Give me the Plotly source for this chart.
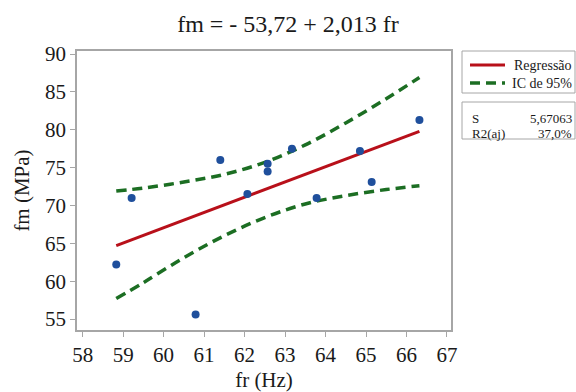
import plotly.graph_objects as go

# Observed pairs: resonance frequency (Hz) vs. compressive strength (MPa)
fr = [58.83, 59.21, 60.79, 61.40, 62.07, 62.57, 62.57, 63.17, 63.78, 64.85, 65.14, 66.32]
fm = [62.2, 71.0, 55.6, 76.0, 71.5, 75.5, 74.5, 77.5, 71.0, 77.2, 73.1, 81.3]

# Fitted line coefficients (fm = b0 + b1 * fr)
b0 = -53.72
b1 = 2.013

# 95% confidence band read along the fitted range
ci_x = [58.83, 59.5, 60.5, 61.5, 62.5, 63.5, 64.5, 65.5, 66.32]
ci_upper = [71.9, 72.3, 73.1, 74.1, 75.7, 78.0, 80.9, 84.1, 86.9]
ci_lower = [57.7, 59.8, 63.1, 66.0, 68.4, 70.2, 71.3, 72.1, 72.6]

x_ticks = [58, 59, 60, 61, 62, 63, 64, 65, 66, 67]
y_ticks = [55, 60, 65, 70, 75, 80, 85, 90]

s_value = "5,67063"
r2_adj = "37,0%"

FONT = "Times New Roman, Liberation Serif, Tinos, DejaVu Serif, serif"
INK = "#1a1a1a"
RED = "#b8101a"
GREEN = "#1c6e23"
BLUE = "#1f4f9c"
FRAME = "#a6a6a6"

fit_x = [min(fr), max(fr)]
fit_y = [b0 + b1 * v for v in fit_x]

fig = go.Figure()

fig.add_trace(go.Scatter(
    x=ci_x, y=ci_upper, mode="lines", line=dict(color=GREEN, width=3.5, dash="10px,6px", shape="spline"),
    name="IC de 95%", showlegend=False, hoverinfo="skip"))
fig.add_trace(go.Scatter(
    x=ci_x, y=ci_lower, mode="lines", line=dict(color=GREEN, width=3.5, dash="10px,6px", shape="spline"),
    name="IC de 95%", showlegend=False, hoverinfo="skip"))
fig.add_trace(go.Scatter(
    x=fit_x, y=fit_y, mode="lines", line=dict(color=RED, width=3),
    name="Regressão", showlegend=False))
fig.add_trace(go.Scatter(
    x=fr, y=fm, mode="markers", marker=dict(color=BLUE, size=8),
    showlegend=False))

# Legend panel and summary panel drawn in paper space beside the plot
L, T = 77, 51
PW, PH = 374, 279


def px(xp):
    return (xp - L) / PW


def py(yp):
    return 1 - (yp - T) / PH


shapes = [
    dict(type="rect", xref="paper", yref="paper", x0=px(462), x1=px(575), y0=py(93), y1=py(51),
         line=dict(color=FRAME, width=1), fillcolor="white"),
    dict(type="rect", xref="paper", yref="paper", x0=px(462), x1=px(575), y0=py(139), y1=py(102),
         line=dict(color=FRAME, width=1), fillcolor="white"),
    dict(type="line", xref="paper", yref="paper", x0=px(470), x1=px(505), y0=py(65), y1=py(65),
         line=dict(color=RED, width=3)),
    dict(type="line", xref="paper", yref="paper", x0=px(470), x1=px(505), y0=py(83), y1=py(83),
         line=dict(color=GREEN, width=3.5, dash="10px,6px")),
]

leg_font = dict(family=FONT, size=14, color=INK)
stat_font = dict(family=FONT, size=13, color=INK)


def note(text, xp, yp, anchor, font):
    return dict(text=text, x=px(xp), y=py(yp), xref="paper", yref="paper", xanchor=anchor,
                yanchor="middle", showarrow=False, font=font)


annotations = [
    note("Regressão", 574, 65, "right", leg_font),
    note("IC de 95%", 574, 83, "right", leg_font),
    note("S", 470, 119, "left", stat_font),
    note("R2(aj)", 470, 133, "left", stat_font),
    note(s_value, 574, 119, "right", stat_font),
    note(r2_adj, 574, 133, "right", stat_font),
]

axis_common = dict(
    showgrid=False, zeroline=False, showline=True, linecolor=FRAME, linewidth=1.5, mirror=True,
    ticks="outside", ticklen=5, tickcolor=FRAME, tickwidth=1, automargin=False,
    tickfont=dict(family=FONT, size=21, color=INK),
)

fig.update_layout(
    width=576, height=392,
    margin=dict(l=L, r=576 - L - PW, t=T, b=392 - T - PH),
    paper_bgcolor="white", plot_bgcolor="white",
    title=dict(text="fm = - 53,72 + 2,013 fr", x=0.5, xanchor="center",
               y=1 - 24 / 392, yanchor="middle", font=dict(family=FONT, size=24, color=INK)),
    xaxis=dict(range=[57.86, 67.1], tickvals=x_ticks,
               title=dict(text="fr (Hz)", font=dict(family=FONT, size=21, color=INK), standoff=8),
               **axis_common),
    yaxis=dict(range=[53.55, 90.4], tickvals=y_ticks,
               title=dict(text="fm (MPa)", font=dict(family=FONT, size=21, color=INK), standoff=10),
               **axis_common),
    shapes=shapes,
    annotations=annotations,
    showlegend=False,
)

fig.write_html("out.html")
